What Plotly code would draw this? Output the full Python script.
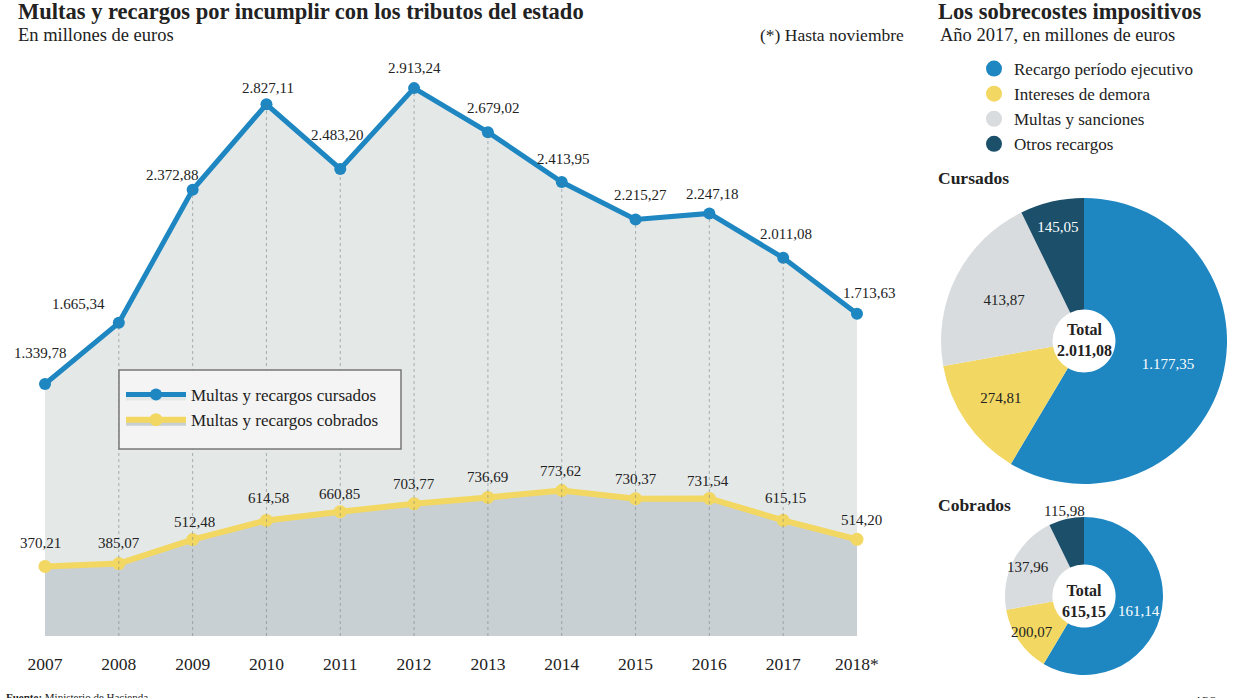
import math
import plotly.graph_objects as go

years = [2007, 2008, 2009, 2010, 2011, 2012, 2013, 2014, 2015, 2016, 2017, 2018]
year_labels = ["2007", "2008", "2009", "2010", "2011", "2012", "2013", "2014", "2015", "2016", "2017", "2018*"]
cursados = [1339.78, 1665.34, 2372.88, 2827.11, 2483.20, 2913.24, 2679.02, 2413.95, 2215.27, 2247.18, 2011.08, 1713.63]
cobrados = [370.21, 385.07, 512.48, 614.58, 660.85, 703.77, 736.69, 773.62, 730.37, 731.54, 615.15, 514.20]

pie_labels = ["Recargo período ejecutivo", "Intereses de demora", "Multas y sanciones", "Otros recargos"]
pie_cursados = [1177.35, 274.81, 413.87, 145.05]
pie_cobrados = [161.14, 200.07, 137.96, 115.98]

BLUE = "#1e86c1"
YELLOW = "#f2d862"
LGRAY = "#d9dcde"
DARK = "#1b4f6a"
pie_colors = [BLUE, YELLOW, LGRAY, DARK]
SERIF = "Liberation Serif"
TXT = "#222222"

W, H = 1248, 698


def fx(x):
    return x / W


def fy(y):
    return 1 - y / H


def es(v):
    s = f"{v:,.2f}"
    return s.replace(",", "X").replace(".", ",").replace("X", ".")


# label offsets (pixels)
cur_xshift = [-4, -40, -20, 2, -3, 0, 6, 2, 5, 3, 3, 13]
cur_yshift = [31, 19, 15, 16, 34, 20, 24, 23, 24, 19, 24, 21]
cob_xshift = [-4, 0, 2, 2, -1, 0, 0, -1, 0, -1, 2, 5]
cob_yshift = [23, 21, 18, 22, 18, 20, 20, 20, 20, 17, 22, 19]

fig = go.Figure()

fig.add_trace(go.Scatter(
    x=years, y=cursados, mode="lines+markers", name="Multas y recargos cursados",
    line=dict(color=BLUE, width=5), marker=dict(color=BLUE, size=12),
    fill="tozeroy", fillcolor="#e4e8e7", cliponaxis=False, legend="legend",
))
fig.add_trace(go.Scatter(
    x=years, y=cobrados, mode="lines+markers", name="Multas y recargos cobrados",
    line=dict(color=YELLOW, width=6), marker=dict(color=YELLOW, size=13),
    fill="tozeroy", fillcolor="#c9d0d3", cliponaxis=False, legend="legend",
))

# vertical dotted guides
for x, v in zip(years[1:-1], cursados[1:-1]):
    fig.add_shape(type="line", x0=x, x1=x, y0=0, y1=v, xref="x", yref="y",
                  line=dict(color="rgba(110,120,125,0.5)", width=1, dash="dot"), layer="above")

for x, v, dx, dy in zip(years, cursados, cur_xshift, cur_yshift):
    fig.add_annotation(x=x, y=v, xref="x", yref="y", text=es(v), showarrow=False,
                       xshift=dx, yshift=dy, font=dict(family=SERIF, size=15, color=TXT))
for x, v, dx, dy in zip(years, cobrados, cob_xshift, cob_yshift):
    fig.add_annotation(x=x, y=v, xref="x", yref="y", text=es(v), showarrow=False,
                       xshift=dx, yshift=dy, font=dict(family=SERIF, size=15, color=TXT))

# legend box
fig.add_shape(type="rect", xref="paper", yref="paper", x0=fx(119), x1=fx(401), y0=fy(449), y1=fy(370),
              fillcolor="#f4f4f4", line=dict(color="#777777", width=1.5), layer="above")

# pie legend (dummy traces)
for lab, col in zip(pie_labels, pie_colors):
    fig.add_trace(go.Scatter(x=[None], y=[None], mode="markers", name=lab,
                             marker=dict(color=col, size=18), legend="legend2"))

# pies
fig.add_trace(go.Pie(
    values=pie_cursados, labels=pie_labels, sort=False, direction="clockwise",
    marker=dict(colors=pie_colors, line=dict(width=0)), hole=0.22,
    text=[es(v) for v in pie_cursados], textinfo="text", textposition="inside",
    insidetextorientation="horizontal",
    textfont=dict(family=SERIF, size=15, color=["white", TXT, TXT, "white"]),
    domain=dict(x=[fx(941), fx(1227)], y=[fy(484), fy(198)]),
    showlegend=False,
))
# Cobrados pie: the reference draws it with the same slice proportions as Cursados
cob_cx, cob_cy, cob_r = 1084, 596, 79
fig.add_trace(go.Pie(
    values=pie_cursados, labels=pie_labels, sort=False, direction="clockwise",
    marker=dict(colors=pie_colors, line=dict(width=0)), hole=0.4,
    customdata=[es(v) for v in pie_cobrados], textinfo="none",
    hovertemplate="%{label}: %{customdata}<extra></extra>",
    domain=dict(x=[fx(cob_cx - cob_r), fx(cob_cx + cob_r)], y=[fy(cob_cy + cob_r), fy(cob_cy - cob_r)]),
    showlegend=False,
))
# labels for the cobrados pie, placed at each slice's mid-angle
tot = sum(pie_cursados)
cum = 0.0
label_r = [0.72, 0.8, 0.8, 1.1]
label_col = ["white", TXT, TXT, TXT]
for v, lab, rr, col in zip(pie_cursados, pie_cobrados, label_r, label_col):
    mid = (cum + v / 2) / tot * 2 * math.pi
    cum += v
    px = cob_cx + rr * cob_r * math.sin(mid)
    py = cob_cy - rr * cob_r * math.cos(mid)
    fig.add_annotation(x=fx(px), y=fy(py), xref="paper", yref="paper", text=es(lab),
                       xanchor="center", yanchor="middle",
                       showarrow=False, font=dict(family=SERIF, size=15, color=col))

fig.add_annotation(x=fx(1084), y=fy(340), xref="paper", yref="paper",
                   text="<b>Total<br>2.011,08</b>", showarrow=False,
                   xanchor="center", yanchor="middle",
                   font=dict(family=SERIF, size=16, color=TXT))
fig.add_annotation(x=fx(1084), y=fy(601), xref="paper", yref="paper",
                   text="<b>Total<br>615,15</b>", showarrow=False,
                   xanchor="center", yanchor="middle",
                   font=dict(family=SERIF, size=16, color=TXT))


def txt(x, y, s, size, bold=False, xanchor="left"):
    fig.add_annotation(x=fx(x), y=fy(y), xref="paper", yref="paper",
                       text=f"<b>{s}</b>" if bold else s, showarrow=False,
                       xanchor=xanchor, yanchor="middle",
                       font=dict(family=SERIF, size=size, color=TXT))


txt(16, 12, "Multas y recargos por incumplir con los tributos del estado", 22.5, True)
txt(16, 35, "En millones de euros", 18.5)
txt(906, 35, "(*) Hasta noviembre", 17.5, xanchor="right")
txt(936, 12, "Los sobrecostes impositivos", 22.5, True)
txt(938, 35, "Año 2017, en millones de euros", 18.5)
txt(936, 178, "Cursados", 17.5, True)
txt(936, 505, "Cobrados", 17.5, True)
txt(4, 697, "<b>Fuente:</b> Ministerio de Hacienda", 11)
txt(1218, 700, "ABC", 10, xanchor="right")

px_per_year = (857 - 45) / 11
x0 = 2006.4
x1 = 2018.4
dom_l = fx(45 - (2007 - x0) * px_per_year)
dom_r = fx(857 + (x1 - 2018) * px_per_year)

fig.update_layout(
    width=W, height=H,
    margin=dict(l=0, r=0, t=0, b=0),
    paper_bgcolor="white", plot_bgcolor="white",
    xaxis=dict(domain=[dom_l, dom_r], range=[x0, x1], tickmode="array", tickvals=years,
               ticktext=year_labels, showgrid=False, zeroline=False, showline=False,
               ticks="", ticklabelstandoff=15,
               tickfont=dict(family=SERIF, size=17.5, color=TXT)),
    yaxis=dict(domain=[fy(636), fy(53)], range=[0, 3100],
               showgrid=False, zeroline=False, showline=False, showticklabels=False),
    legend=dict(x=fx(121), y=fy(377), xanchor="left", yanchor="top",
                bgcolor="rgba(0,0,0,0)", borderwidth=0,
                font=dict(family=SERIF, size=17, color=TXT), itemwidth=60,
                tracegroupgap=4),
    legend2=dict(x=fx(974), y=fy(51), xanchor="left", yanchor="top",
                 bgcolor="rgba(0,0,0,0)", font=dict(family=SERIF, size=17, color=TXT),
                 itemwidth=30, tracegroupgap=0),
    showlegend=True,
)

fig.write_html("out.html", config={"displayModeBar": False},
               post_script="document.body.style.margin='0';document.body.style.overflow='hidden';")
